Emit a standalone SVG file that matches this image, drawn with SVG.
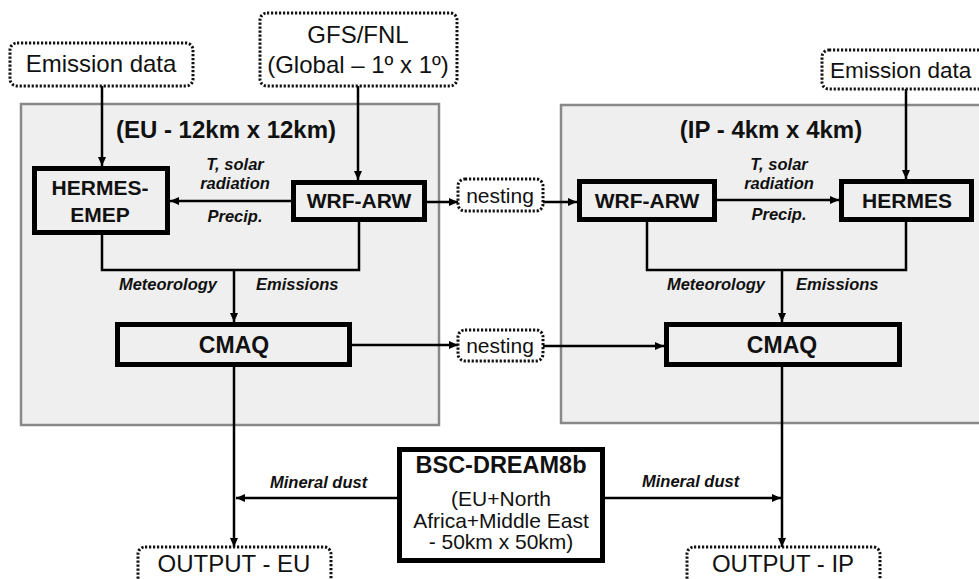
<svg xmlns="http://www.w3.org/2000/svg" width="979" height="579" viewBox="0 0 979 579">
<defs>
<marker id="arr" markerUnits="userSpaceOnUse" markerWidth="10" markerHeight="8" refX="9" refY="4" orient="auto">
<path d="M0,0 L9,4 L0,8 z" fill="#000"/>
</marker>
<style>
text{font-family:"Liberation Sans",Arial,sans-serif;fill:#111}
.panel{fill:#efefef;stroke:#888;stroke-width:2.5}
.dot{fill:#fff;stroke:#111;stroke-width:3;stroke-dasharray:2.2 1.8}
.thick{fill:#efefef;stroke:#000;stroke-width:5}
.white{fill:#fff}
.conn{fill:none;stroke:#000;stroke-width:2.5}
.arrow{marker-end:url(#arr)}
.reg{font-size:24px;text-anchor:middle}
.node{font-size:21px;font-weight:bold;text-anchor:middle}
.big{font-size:23px;font-weight:bold;text-anchor:middle}
.title{font-size:24px;font-weight:bold;text-anchor:middle}
.lab{font-size:16.5px;font-weight:bold;font-style:italic}
.mid{text-anchor:middle}
.end{text-anchor:end}
.bscs{font-size:21px;text-anchor:middle}
</style>
</defs>
<rect width="979" height="579" fill="#fff"/>

<g id="panel-eu">
<rect class="panel" x="21" y="104" width="418" height="321"/>
<text class="title" x="226" y="138">(EU - 12km x 12km)</text>
</g>
<g id="panel-ip">
<rect class="panel" x="561" y="105" width="430" height="318"/>
<text class="title" x="771" y="138">(IP - 4km x 4km)</text>
</g>

<g id="connectors">
<path class="conn arrow" d="M102,86 V166"/>
<path class="conn arrow" d="M358,86 V180"/>
<path class="conn arrow" d="M291,201 H170"/>
<path class="conn arrow" d="M427,202 H458"/>
<path class="conn arrow" d="M543,202 H577"/>
<path class="conn" d="M102,235 V270 H359 V222"/>
<path class="conn arrow" d="M234,270 V322"/>
<path class="conn arrow" d="M352,345 H458"/>
<path class="conn arrow" d="M543,346 H664"/>
<path class="conn arrow" d="M234,367 V547"/>
<path class="conn arrow" d="M397,498 H236"/>
<path class="conn arrow" d="M605,498 H781"/>
<path class="conn arrow" d="M782,367 V547"/>
<path class="conn arrow" d="M717,200 H839"/>
<path class="conn arrow" d="M906,89 V179"/>
<path class="conn" d="M647,222 V270 H906 V222"/>
<path class="conn arrow" d="M782,270 V322"/>
</g>

<g id="labels">
<text class="lab mid" x="235" y="170">T, solar</text>
<text class="lab mid" x="235" y="189">radiation</text>
<text class="lab mid" x="235" y="222">Precip.</text>
<text class="lab mid" x="779" y="170">T, solar</text>
<text class="lab mid" x="779" y="189">radiation</text>
<text class="lab mid" x="779" y="220">Precip.</text>
<text class="lab end" x="217" y="290">Meteorology</text>
<text class="lab" x="256" y="290">Emissions</text>
<text class="lab end" x="765" y="290">Meteorology</text>
<text class="lab" x="796" y="290">Emissions</text>
<text class="lab" x="270" y="488">Mineral dust</text>
<text class="lab" x="642" y="487">Mineral dust</text>
</g>

<g id="emission-eu">
<rect class="dot" x="10" y="43" width="183" height="43" rx="7"/>
<text class="reg" x="101" y="72">Emission data</text>
</g>
<g id="gfs-fnl">
<rect class="dot" x="260" y="13" width="197" height="73" rx="7"/>
<text class="reg" x="358" y="43">GFS/FNL</text>
<text class="reg" x="358" y="73">(Global – 1º x 1º)</text>
</g>
<g id="emission-ip">
<rect class="dot" x="822" y="50" width="180" height="39" rx="7"/>
<text class="reg" x="830" y="78" style="text-anchor:start;font-size:22.5px">Emission data</text>
</g>
<g id="nesting-wrf">
<rect class="dot" x="458" y="179" width="85" height="32" rx="7"/>
<text class="reg" x="500" y="203" style="font-size:21px">nesting</text>
</g>
<g id="nesting-cmaq">
<rect class="dot" x="458" y="330" width="85" height="31" rx="7"/>
<text class="reg" x="500" y="353" style="font-size:21px">nesting</text>
</g>
<g id="output-eu">
<rect class="dot" x="138" y="547" width="193" height="45" rx="7"/>
<text class="reg" x="234" y="572">OUTPUT - EU</text>
</g>
<g id="output-ip">
<rect class="dot" x="687" y="547" width="193" height="45" rx="7"/>
<text class="reg" x="783" y="572">OUTPUT - IP</text>
</g>

<g id="hermes-emep">
<rect class="thick" x="34.5" y="168.5" width="133" height="64"/>
<text class="node" x="100" y="195">HERMES-</text>
<text class="node" x="100" y="222">EMEP</text>
</g>
<g id="wrf-arw-eu">
<rect class="thick" x="293.5" y="182.5" width="131" height="37"/>
<text class="node" x="359" y="208">WRF-ARW</text>
</g>
<g id="cmaq-eu">
<rect class="thick" x="117.5" y="324.5" width="232" height="40"/>
<text class="big" x="234" y="353">CMAQ</text>
</g>
<g id="wrf-arw-ip">
<rect class="thick" x="579.5" y="181.5" width="135" height="38"/>
<text class="node" x="647" y="208">WRF-ARW</text>
</g>
<g id="hermes-ip">
<rect class="thick" x="841.5" y="181.5" width="130" height="38"/>
<text class="node" x="907" y="208">HERMES</text>
</g>
<g id="cmaq-ip">
<rect class="thick" x="666.5" y="324.5" width="233" height="40"/>
<text class="big" x="782" y="353">CMAQ</text>
</g>
<g id="bsc-dream8b">
<rect class="thick white" x="399.5" y="449.5" width="203" height="111"/>
<text class="node" x="501" y="473" style="font-size:23.5px">BSC-DREAM8b</text>
<text class="bscs" x="501" y="506">(EU+North</text>
<text class="bscs" x="501" y="528">Africa+Middle East</text>
<text class="bscs" x="501" y="549">- 50km x 50km)</text>
</g>
</svg>
